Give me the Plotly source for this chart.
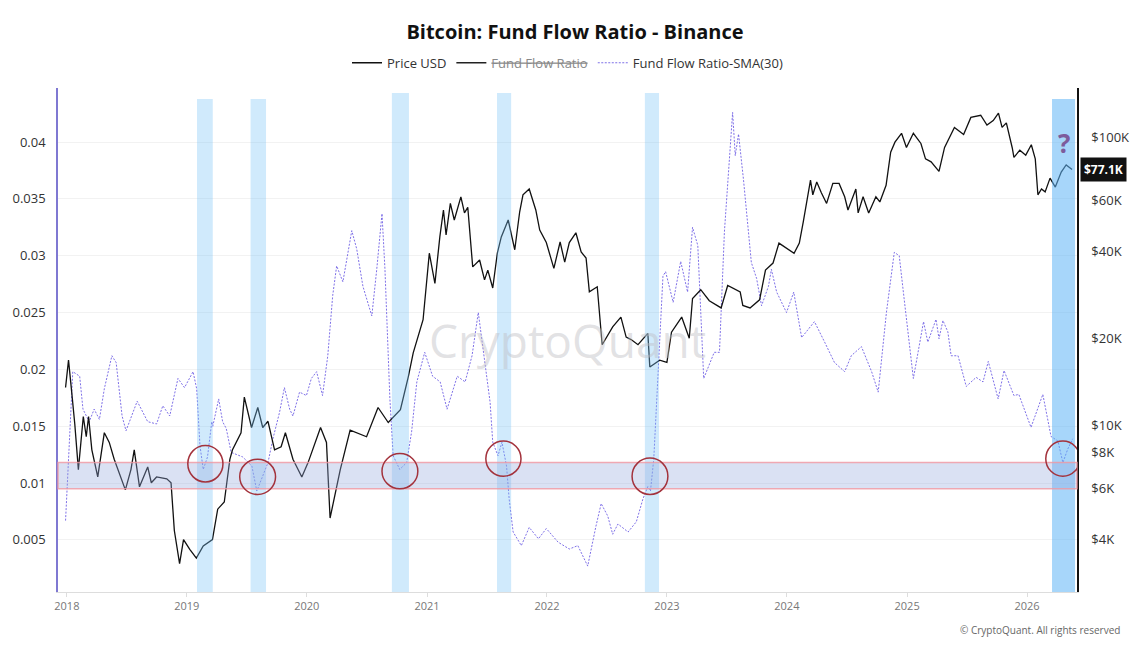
import numpy as np
import plotly.graph_objects as go

# Bitcoin price (USD)
price_dates = [
    "2017-12-28", "2018-01-06", "2018-01-16", "2018-01-25", "2018-02-05", "2018-02-20",
    "2018-03-01", "2018-03-08", "2018-03-18", "2018-04-05", "2018-04-25", "2018-05-10",
    "2018-05-25", "2018-06-15", "2018-06-28", "2018-07-15", "2018-07-25", "2018-08-10",
    "2018-09-04", "2018-09-15", "2018-10-01", "2018-11-01", "2018-11-14", "2018-11-24",
    "2018-12-10", "2018-12-22", "2019-01-10", "2019-01-30", "2019-02-20", "2019-03-20",
    "2019-04-05", "2019-04-25", "2019-05-12", "2019-05-20", "2019-06-15", "2019-06-25",
    "2019-07-10", "2019-07-17", "2019-08-05", "2019-08-20", "2019-09-05", "2019-09-25",
    "2019-10-15", "2019-10-28", "2019-11-20", "2019-12-17", "2020-01-05", "2020-02-12",
    "2020-03-01", "2020-03-12", "2020-04-12", "2020-05-12", "2020-07-01", "2020-08-05",
    "2020-09-05", "2020-10-12", "2020-11-05", "2020-11-20", "2020-12-20", "2021-01-08",
    "2021-01-25", "2021-02-09", "2021-02-20", "2021-02-28", "2021-03-13", "2021-03-25",
    "2021-04-14", "2021-04-25", "2021-05-05", "2021-05-20", "2021-06-10", "2021-06-25",
    "2021-07-05", "2021-07-20", "2021-08-03", "2021-08-15", "2021-09-05", "2021-09-25",
    "2021-10-10", "2021-10-20", "2021-11-08", "2021-11-28", "2021-12-10", "2021-12-30",
    "2022-01-22", "2022-02-10", "2022-02-24", "2022-03-10", "2022-03-30", "2022-04-15",
    "2022-04-30", "2022-05-10", "2022-06-03", "2022-06-14", "2022-06-18", "2022-07-20",
    "2022-08-14", "2022-08-30", "2022-09-14", "2022-10-05", "2022-11-04", "2022-11-10",
    "2022-12-10", "2023-01-01", "2023-01-15", "2023-02-15", "2023-03-10", "2023-03-20",
    "2023-04-14", "2023-05-10", "2023-06-15", "2023-07-05", "2023-08-12", "2023-08-20",
    "2023-09-11", "2023-10-10", "2023-10-28", "2023-11-20", "2023-12-08", "2024-01-23",
    "2024-02-08", "2024-02-20", "2024-03-05", "2024-03-13", "2024-03-20", "2024-04-01",
    "2024-04-15", "2024-05-01", "2024-05-20", "2024-06-08", "2024-06-25", "2024-07-05",
    "2024-07-29", "2024-08-05", "2024-08-20", "2024-09-06", "2024-09-28", "2024-10-10",
    "2024-10-29", "2024-11-12", "2024-11-25", "2024-12-15", "2024-12-30", "2025-01-20",
    "2025-02-12", "2025-02-26", "2025-03-15", "2025-04-08", "2025-04-25", "2025-05-25",
    "2025-06-22", "2025-07-14", "2025-08-13", "2025-09-01", "2025-09-20", "2025-10-06",
    "2025-10-17", "2025-10-30", "2025-11-17", "2025-11-22", "2025-12-10", "2025-12-28",
    "2026-01-14", "2026-01-26", "2026-02-03", "2026-02-14", "2026-02-25", "2026-03-12",
    "2026-03-28", "2026-04-15", "2026-04-30", "2026-05-18",
]
price_usd = [
    13500, 16800, 12900, 10100, 7000, 10700,
    9100, 10700, 8200, 6600, 9400, 8700,
    7600, 6600, 5950, 7000, 8200, 6100,
    7150, 6300, 6600, 6500, 6300, 4300,
    3300, 4000, 3700, 3450, 3800, 4000,
    5100, 5400, 7600, 8200, 9400, 12500,
    10700, 9800, 11500, 9800, 10300, 8200,
    8400, 9400, 7600, 6600, 7400, 9800,
    8700, 4750, 7000, 9600, 9100, 11500,
    10200, 11300, 14700, 17800, 23200, 39500,
    31000, 45000, 55800, 45700, 58800, 51500,
    62000, 54500, 57000, 35400, 37400, 31900,
    34500, 29900, 39500, 45000, 51500, 40600,
    55000, 63000, 66000, 55800, 47500, 43000,
    35000, 43200, 36800, 43000, 46500, 39900,
    38000, 29000, 30200, 21900, 19000, 21900,
    23700, 20200, 19800, 19000, 20800, 15900,
    16800, 16500, 21000, 23700, 20000, 27500,
    29500, 27000, 25500, 30500, 29000, 26000,
    25500, 27200, 34500, 36500, 42800, 39500,
    42800, 50700, 62000, 70800, 63000, 69800,
    64000, 58800, 69000, 69000, 62000, 55800,
    66000, 54500, 62000, 54500, 62000, 59500,
    68000, 88600, 96000, 103000, 92000, 103000,
    95000, 84000, 82000, 76000, 92000, 108000,
    102000, 117000, 119000, 110000, 114000, 121000,
    108000, 112000, 91600, 85000, 90000, 86500,
    94000, 84000, 63000, 66000, 64500, 72000,
    67000, 75600, 80000, 77100,
]

# Fund Flow Ratio 30-day SMA
sma_dates = [
    "2017-12-28", "2018-01-19", "2018-02-09", "2018-02-19", "2018-03-10", "2018-03-25",
    "2018-04-10", "2018-04-25", "2018-05-18", "2018-05-31", "2018-06-18", "2018-06-30",
    "2018-08-03", "2018-08-15", "2018-09-04", "2018-10-01", "2018-10-20", "2018-11-10",
    "2018-12-05", "2018-12-25", "2019-01-20", "2019-01-31", "2019-02-10", "2019-02-20",
    "2019-03-05", "2019-03-18", "2019-03-21", "2019-04-08", "2019-04-20", "2019-05-01",
    "2019-05-16", "2019-06-20", "2019-07-18", "2019-08-02", "2019-08-20", "2019-09-05",
    "2019-09-20", "2019-10-10", "2019-10-25", "2019-11-10", "2019-11-20", "2019-12-10",
    "2019-12-31", "2020-01-15", "2020-01-31", "2020-02-18", "2020-03-05", "2020-03-20",
    "2020-04-01", "2020-04-20", "2020-05-17", "2020-06-01", "2020-06-20", "2020-07-17",
    "2020-08-01", "2020-08-17", "2020-08-26", "2020-09-10", "2020-09-20", "2020-10-10",
    "2020-10-31", "2020-11-15", "2020-12-01", "2020-12-25", "2021-01-18", "2021-02-10",
    "2021-03-03", "2021-04-03", "2021-04-27", "2021-05-18", "2021-06-06", "2021-06-27",
    "2021-07-12", "2021-07-20", "2021-08-05", "2021-08-17", "2021-08-31", "2021-09-08",
    "2021-09-20", "2021-10-15", "2021-11-08", "2021-12-06", "2021-12-30", "2022-02-04",
    "2022-03-10", "2022-04-05", "2022-05-05", "2022-05-30", "2022-06-15", "2022-07-05",
    "2022-07-20", "2022-08-05", "2022-09-05", "2022-09-30", "2022-10-20", "2022-11-04",
    "2022-11-12", "2022-11-22", "2022-12-05", "2022-12-20", "2022-12-28", "2023-01-20",
    "2023-02-12", "2023-03-05", "2023-03-20", "2023-04-05", "2023-04-23", "2023-05-25",
    "2023-06-10", "2023-06-25", "2023-07-20", "2023-07-28", "2023-08-07", "2023-08-22",
    "2023-09-15", "2023-10-01", "2023-10-16", "2023-11-06", "2023-11-15", "2023-12-01",
    "2023-12-31", "2024-01-22", "2024-02-15", "2024-03-25", "2024-04-25", "2024-05-25",
    "2024-06-25", "2024-07-15", "2024-08-15", "2024-09-15", "2024-10-05", "2024-10-30",
    "2024-11-23", "2024-12-08", "2024-12-23", "2025-01-20", "2025-02-20", "2025-03-05",
    "2025-03-30", "2025-04-08", "2025-04-20", "2025-05-05", "2025-05-15", "2025-06-05",
    "2025-06-30", "2025-07-30", "2025-08-20", "2025-09-05", "2025-10-05", "2025-10-23",
    "2025-11-22", "2025-12-07", "2026-01-13", "2026-02-18", "2026-03-15", "2026-04-05",
    "2026-04-20", "2026-05-05", "2026-05-20",
]
sma_ratio = [
    0.0067, 0.0198, 0.0194, 0.0165, 0.0154, 0.0165,
    0.0156, 0.0183, 0.0212, 0.0206, 0.0159, 0.0146,
    0.0172, 0.0165, 0.0154, 0.0152, 0.0168, 0.0159,
    0.0192, 0.0184, 0.0198, 0.0183, 0.0133, 0.0112,
    0.0123, 0.0154, 0.0150, 0.0174, 0.0154, 0.0148,
    0.0127, 0.0123, 0.0115, 0.0093, 0.0106, 0.0118,
    0.0139, 0.0162, 0.0184, 0.0165, 0.0159, 0.0180,
    0.0177, 0.0192, 0.0198, 0.0177, 0.0212, 0.0265,
    0.0291, 0.0277, 0.0322, 0.0306, 0.0273, 0.0247,
    0.0288, 0.0337, 0.0288, 0.0174, 0.0124, 0.0112,
    0.0118, 0.0145, 0.0189, 0.0215, 0.0194, 0.0189,
    0.0165, 0.0194, 0.0189, 0.0212, 0.0250, 0.0206,
    0.0171, 0.0136, 0.0124, 0.0136, 0.0115, 0.0086,
    0.0057, 0.0045, 0.0061, 0.0051, 0.0060, 0.0048,
    0.0042, 0.0045, 0.0027, 0.0062, 0.0082, 0.0071,
    0.0055, 0.0064, 0.0057, 0.0066, 0.0086, 0.0097,
    0.0093, 0.0121, 0.0192, 0.0282, 0.0286, 0.0259,
    0.0295, 0.0268, 0.0325, 0.0309, 0.0192, 0.0215,
    0.0215, 0.0321, 0.0426, 0.0388, 0.0407, 0.0367,
    0.0294, 0.0280, 0.0256, 0.0273, 0.0288, 0.0268,
    0.0250, 0.0268, 0.0228, 0.0242, 0.0224, 0.0206,
    0.0198, 0.0212, 0.0220, 0.0198, 0.0180, 0.0250,
    0.0303, 0.0300, 0.0262, 0.0192, 0.0242, 0.0224,
    0.0244, 0.0227, 0.0243, 0.0233, 0.0212, 0.0212,
    0.0185, 0.0193, 0.0189, 0.0207, 0.0174, 0.0199,
    0.0177, 0.0178, 0.0149, 0.0178, 0.0141, 0.0137,
    0.0118, 0.0130, 0.0139,
]

# highlighted periods (vertical bands) and the circled lows
band_starts = ["2019-02-01", "2019-07-14", "2020-09-16", "2021-08-02", "2022-10-26", "2026-03-18"]
band_ends = ["2019-03-21", "2019-08-30", "2020-11-07", "2021-09-14", "2022-12-08", "2026-05-27"]
circle_x0 = ["2019-01-04", "2019-06-11", "2020-08-17", "2021-06-29", "2022-09-17", "2026-02-27"]
circle_x1 = ["2019-04-21", "2019-09-28", "2020-12-04", "2021-10-14", "2023-01-04", "2026-06-11"]
circle_y0 = [0.0101, 0.0090, 0.0095, 0.0106, 0.0090, 0.0106]
circle_y1 = [0.0133, 0.0121, 0.0126, 0.0137, 0.0122, 0.0137]
zone_low, zone_high = 0.0095, 0.0118

left_ticks = [0.005, 0.01, 0.015, 0.02, 0.025, 0.03, 0.035, 0.04]
right_ticks = [4000, 6000, 8000, 10000, 20000, 40000, 60000, 100000]
right_labels = ["$4K", "$6K", "$8K", "$10K", "$20K", "$40K", "$60K", "$100K"]

fig = go.Figure()

fig.add_trace(go.Scatter(
    x=price_dates, y=price_usd, name="Price USD", yaxis="y2",
    mode="lines", line=dict(color="#111111", width=1.3),
))
# the raw ratio is switched off in the source chart, only its legend entry shows
fig.add_trace(go.Scatter(
    x=[None], y=[None], mode="lines",
    name="<span style='text-decoration:line-through;color:#888'>Fund Flow Ratio</span>",
    line=dict(color="#222222", width=1.3),
))
fig.add_trace(go.Scatter(
    x=sma_dates, y=sma_ratio, name="Fund Flow Ratio-SMA(30)",
    mode="lines", line=dict(color="rgba(112,96,228,0.9)", width=1, dash="2px,1.5px"),
))

shapes = []
for i, (b0, b1) in enumerate(zip(band_starts, band_ends)):
    last = i == len(band_starts) - 1
    shapes.append(dict(
        type="rect", xref="x", yref="paper", x0=b0, x1=b1, y0=0,
        y1=0.978 if i in (0, 1, 5) else 0.99,
        fillcolor="rgba(95,180,245,0.55)" if last else "rgba(120,195,245,0.35)",
        line=dict(width=0), layer="above",
    ))
shapes.append(dict(
    type="rect", xref="paper", yref="y", x0=0, x1=1, y0=zone_low, y1=zone_high,
    fillcolor="rgba(150,170,220,0.35)", line=dict(color="rgba(240,150,160,0.8)", width=1.5),
    layer="above",
))
for cx0, cx1, cy0, cy1 in zip(circle_x0, circle_x1, circle_y0, circle_y1):
    shapes.append(dict(
        type="circle", xref="x", yref="y", x0=cx0, x1=cx1, y0=cy0, y1=cy1,
        line=dict(color="#a3323c", width=1.5), layer="above",
    ))

annotations = [
    dict(text="CryptoQuant", xref="paper", yref="paper", x=0.5, y=0.5,
         showarrow=False, font=dict(size=46, color="rgba(190,190,195,0.45)", family="Open Sans")),
    dict(text="<b>?</b>", xref="x", yref="paper", x="2026-04-24", y=0.89,
         yanchor="middle", showarrow=False,
         font=dict(size=26, color="#7d5c9c", family="Open Sans")),
    dict(text=f"<b>${price_usd[-1] / 1000:.1f}K</b>", xref="paper", yref="y2",
         x=1.003, y=np.log10(price_usd[-1]), xanchor="left", showarrow=False,
         bgcolor="#111111", borderpad=3, font=dict(size=12, color="white", family="Open Sans")),
    dict(text="© CryptoQuant. All rights reserved", xref="paper", yref="paper",
         x=1.044, y=-0.075, xanchor="right", yanchor="middle", showarrow=False,
         font=dict(size=10, color="#666666", family="Open Sans")),
]

# the page body adds an 8px offset, so the figure is drawn 8px smaller
fig.update_layout(
    width=1134, height=640,
    margin=dict(l=50, r=65, t=80, b=56, autoexpand=False),
    paper_bgcolor="white", plot_bgcolor="white",
    font=dict(family="Open Sans", color="#333333"),
    title=dict(text="<b>Bitcoin: Fund Flow Ratio - Binance</b>", x=0.5, y=0.9625,
               xanchor="center", yanchor="middle", font=dict(size=20, color="#111111")),
    legend=dict(orientation="h", x=0.5, xanchor="center", y=1.05, yanchor="middle",
                font=dict(size=13, color="#333333"), itemwidth=30),
    showlegend=True,
    shapes=shapes,
    annotations=annotations,
    xaxis=dict(
        type="date", range=["2017-12-05", "2026-06-02"], automargin=False,
        tickvals=[f"{y}-01-01" for y in range(2018, 2027)], tickformat="%Y",
        tickfont=dict(size=11, color="#777777"), ticks="outside", ticklen=4,
        tickcolor="#dddddd", showgrid=False, showline=True, linecolor="#dddddd",
        zeroline=False,
    ),
    yaxis=dict(
        range=[0.00042, 0.04475], tickvals=left_ticks, automargin=False,
        tickfont=dict(size=13, color="#333333"), showgrid=True, gridcolor="#f2f2f2",
        showline=True, linecolor="#7f78d2", linewidth=1.5, zeroline=False,
        ticks="", ticklabelstandoff=8,
    ),
    yaxis2=dict(
        type="log", overlaying="y", side="right", automargin=False,
        range=[np.log10(2630), np.log10(148000)],
        tickvals=right_ticks, ticktext=right_labels,
        tickfont=dict(size=13, color="#333333"), showgrid=False,
        showline=True, linecolor="#111111", linewidth=1.5, ticks="",
        ticklabelstandoff=10,
    ),
)

fig.write_html("out.html")
